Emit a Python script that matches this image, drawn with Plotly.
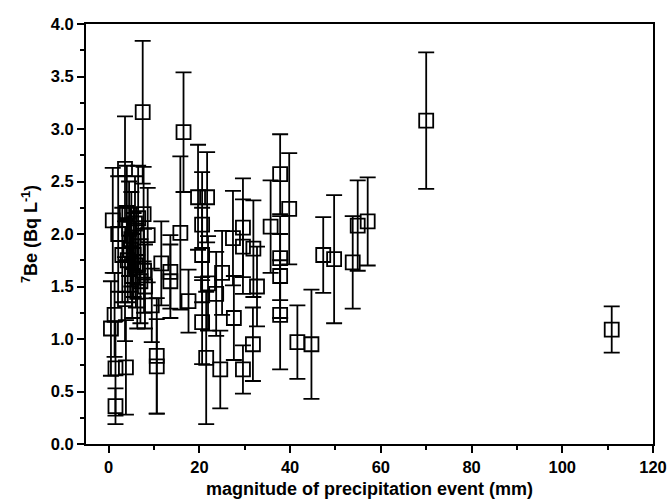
import plotly.graph_objects as go

# magnitude of precipitation event (mm)
x_mm = [70.0, 110.9, 57.1, 54.9, 53.8, 49.7, 47.3, 44.7, 41.6, 39.8,
        37.8, 37.8, 37.8, 37.8, 35.7, 32.7, 31.9, 31.8, 29.6, 29.6,
        29.6, 27.6, 27.4, 25.0, 24.6, 23.7, 21.9, 21.7, 19.7, 20.6,
        20.6, 20.6, 21.5, 17.6, 16.5, 15.8, 13.6, 13.6, 11.6, 10.6,
        10.6, 7.5, 3.6, 0.9, 2.1, 8.6, 7.7, 3.6, 1.3, 0.5,
        1.5, 3.8, 1.5, 4.0, 4.5, 5.0, 5.5, 4.2, 6.0, 5.2,
        6.5, 7.0, 6.3, 8.0, 5.8, 4.8, 9.5, 3.0, 7.8]
# 7Be activity (Bq L-1)
be7 = [3.08, 1.09, 2.12, 2.08, 1.73, 1.76, 1.80, 0.95, 0.97, 2.24,
       2.57, 1.77, 1.60, 1.23, 2.07, 1.50, 1.86, 0.95, 2.06, 1.88,
       0.71, 1.20, 1.96, 1.63, 0.71, 1.43, 1.53, 2.35, 2.35, 2.09,
       1.80, 1.16, 0.82, 1.36, 2.97, 2.01, 1.64, 1.55, 1.72, 0.84,
       0.74, 3.16, 2.62, 2.13, 2.00, 1.99, 2.19, 1.38, 1.23, 1.10,
       0.72, 0.73, 0.36, 2.20, 2.05, 1.95, 1.80, 1.75, 1.70, 1.60,
       2.15, 1.55, 1.45, 1.50, 2.10, 1.85, 1.32, 1.80, 1.65]
# uncertainty (Bq L-1)
be7_err = [0.65, 0.22, 0.42, 0.43, 0.44, 0.61, 0.36, 0.52, 0.35, 0.53,
           0.38, 0.40, 0.40, 0.52, 0.44, 0.38, 0.46, 0.35, 0.47, 0.45,
           0.23, 0.40, 0.45, 0.40, 0.37, 0.40, 0.45, 0.43, 0.50, 0.50,
           0.45, 0.40, 0.63, 0.30, 0.57, 0.73, 0.35, 0.35, 0.40, 0.55,
           0.45, 0.68, 0.50, 0.50, 0.55, 0.45, 0.45, 0.40, 0.40, 0.45,
           0.45, 0.45, 0.17, 0.45, 0.45, 0.45, 0.40, 0.40, 0.40, 0.40,
           0.50, 0.40, 0.35, 0.40, 0.45, 0.40, 0.35, 0.45, 0.40]

x_ticks = [0, 20, 40, 60, 80, 100, 120]
y_ticks = [0.0, 0.5, 1.0, 1.5, 2.0, 2.5, 3.0, 3.5, 4.0]

FONT = "Liberation Sans, Arial, sans-serif"

fig = go.Figure()
fig.add_trace(go.Scatter(
    x=x_mm, y=be7, mode="markers",
    marker=dict(symbol="square-open", size=14, color="black",
                line=dict(color="black", width=1.8)),
    error_y=dict(type="data", array=be7_err, visible=True,
                 color="black", thickness=1.8, width=8),
    showlegend=False,
))

fig.update_layout(
    width=670, height=501,
    margin=dict(l=86, r=17, t=24, b=57),
    paper_bgcolor="white", plot_bgcolor="white",
    font=dict(family=FONT, color="black"),
    xaxis=dict(
        range=[-5, 120], tickvals=x_ticks,
        ticktext=[f"<b>{v}</b>" for v in x_ticks],
        ticks="outside", ticklen=7, tickwidth=1.5, tickcolor="black",
        minor=dict(dtick=10, ticks="outside", ticklen=4, tickwidth=1.5,
                   tickcolor="black"),
        showline=True, linecolor="black", linewidth=2, mirror=True,
        showgrid=False, zeroline=False, automargin=False,
        tickfont=dict(family=FONT, size=16.5, color="black"),
        title=dict(text="<b>magnitude of precipitation event (mm)</b>",
                   font=dict(family=FONT, size=18, color="black"),
                   standoff=8),
    ),
    yaxis=dict(
        range=[0, 4], tickvals=y_ticks,
        ticktext=[f"<b>{v:.1f}</b>" for v in y_ticks],
        ticks="outside", ticklen=7, tickwidth=1.5, tickcolor="black",
        minor=dict(dtick=0.25, ticks="outside", ticklen=4, tickwidth=1.5,
                   tickcolor="black"),
        showline=True, linecolor="black", linewidth=2, mirror=True,
        showgrid=False, zeroline=False, automargin=False,
        tickfont=dict(family=FONT, size=16.5, color="black"),
        title=dict(text="<b><sup>7</sup>Be (Bq L<sup>-1</sup>)</b>",
                   font=dict(family=FONT, size=18, color="black"),
                   standoff=8),
    ),
)

fig.write_html("out.html")
